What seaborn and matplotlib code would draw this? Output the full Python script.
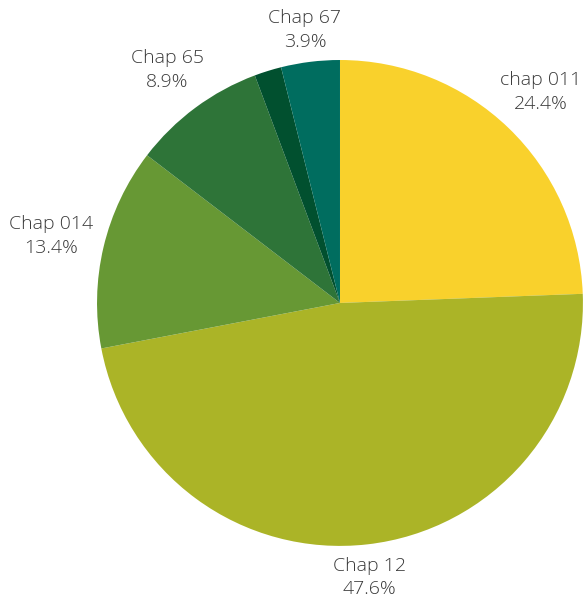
import seaborn as sns
from matplotlib import pyplot as plt

sns.set_theme(style='white')
plt.rcParams['font.family'] = ['Open Sans', 'DejaVu Sans']

labels = ['chap 011', 'Chap 12', 'Chap 014', 'Chap 65', '', 'Chap 67']
shares = [24.4, 47.6, 13.4, 8.9, 1.8, 3.9]
colors = ['#F9D12C', '#ABB427', '#679834', '#2E7438', '#01502F', '#006D5F']
# label anchor points, in pie radius units
label_xy = [(0.827, 0.868), (0.12, -1.13), (-1.19, 0.276),
            (-0.712, 0.959), None, (-0.144, 1.123)]

fig = plt.figure(figsize=(5.84, 6.03), dpi=100)
ax = fig.add_axes([0, 0, 1, 1])
ax.pie(shares, colors=colors, startangle=90, counterclock=False, radius=1,
       wedgeprops=dict(linewidth=0))

for name, val, xy in zip(labels, shares, label_xy):
    if xy is None:
        continue
    ax.text(xy[0], xy[1], f'{name}\n{val:.1f}%', ha='center', va='center',
            fontsize=14, color='#3a3a3a', linespacing=1.42, fontweight='light')

ax.set_xlim(-1.399, 1.004)
ax.set_ylim(-1.235, 1.247)
ax.set_aspect('equal')
ax.axis('off')

plt.savefig('out.png', dpi=100)
